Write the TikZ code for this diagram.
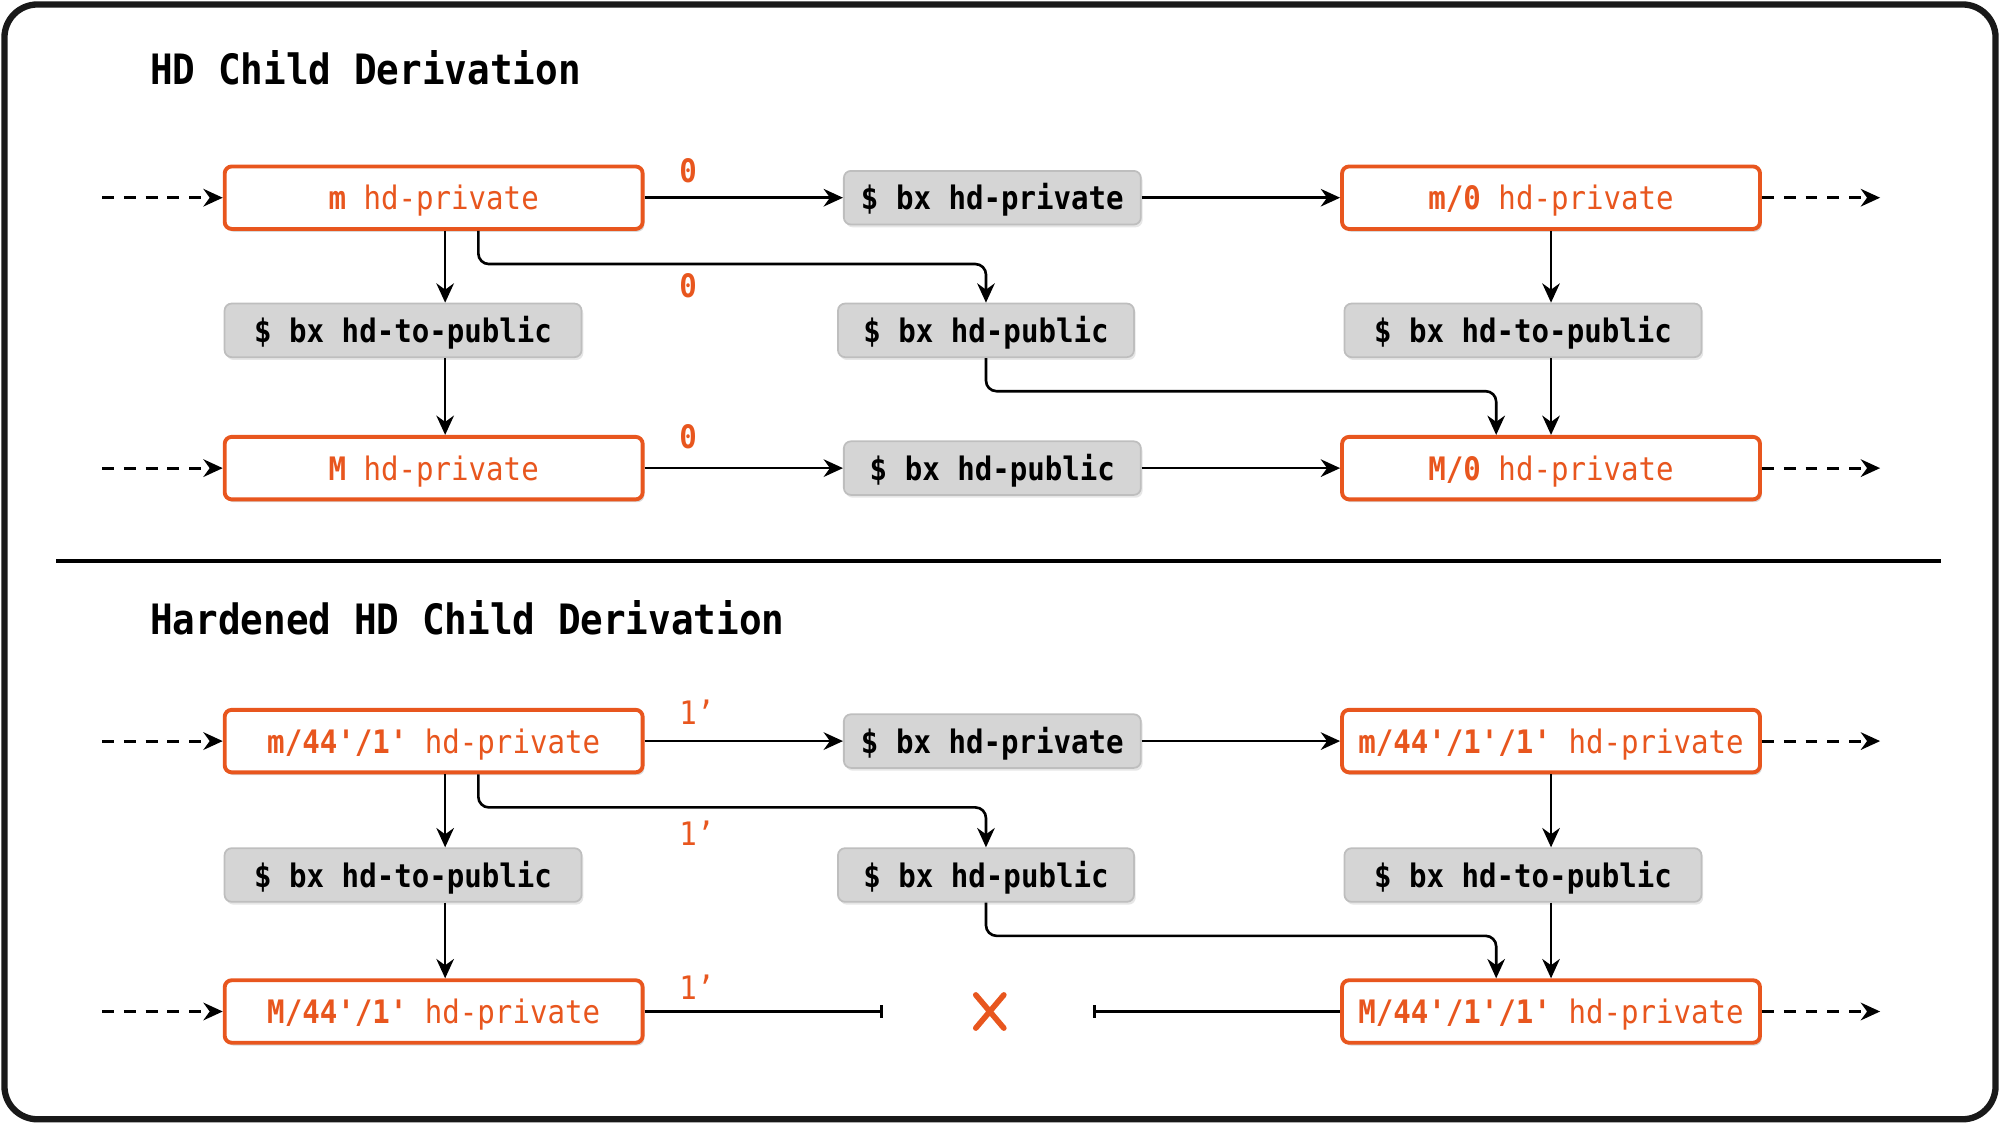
\documentclass[tikz,border=0pt]{standalone}
\usepackage{fontspec}
\setmonofont[FakeStretch=0.9]{DejaVu Sans Mono}
\usetikzlibrary{calc, arrows.meta, shadows}
\definecolor{hdorange}{HTML}{E8561E}
\definecolor{cmdgray}{HTML}{D5D5D5}
\definecolor{cmdedge}{HTML}{BEBEBE}
\newcommand{\boxfont}{\ttfamily\fontsize{9.2}{11}\selectfont}

\tikzset{
    keybox/.style={draw=hdorange, line width=1.1pt, rounded corners=2pt, fill=white,
        text=hdorange, minimum width=4.18cm, minimum height=0.625cm, inner sep=0pt,
        text height=1.8ex, text depth=0.2ex,
        font=\boxfont, drop shadow={opacity=0.3, shadow xshift=0.5pt, shadow yshift=-0.8pt}},
    cmdbox/.style={draw=cmdedge, line width=0.5pt, rounded corners=2pt, fill=cmdgray,
        minimum height=0.536cm, inner sep=0pt, font=\boxfont\bfseries,
        text height=1.8ex, text depth=0.2ex,
        drop shadow={opacity=0.2, shadow xshift=0.5pt, shadow yshift=-0.8pt}},
    link/.style={line width=0.75pt, -{Stealth[length=5.5pt, width=5pt]}},
    stub/.style={link, line width=0.9pt, dash pattern=on 3.4pt off 2.8pt},
    cut/.style={line width=0.75pt},
    idx/.style={anchor=west, inner sep=0pt, text=hdorange, font=\boxfont},
}

\begin{document}
\begin{tikzpicture}[x=0.012755cm, y=-0.012755cm]
    \useasboundingbox (0,0) rectangle (1568,881);
    \draw[line width=1.8pt, draw=black!90, rounded corners=0.33cm] (3.5,3.5) rectangle (1564.5,877.5);

    % titles and separator
    \node[anchor=west, font=\ttfamily\bfseries\fontsize{11.9}{14}\selectfont] (title) at (108,53) {HD Child Derivation};
    \node[anchor=west, font=\ttfamily\bfseries\fontsize{11.9}{14}\selectfont] (htitle) at (108,484) {Hardened HD Child Derivation};
    \draw[line width=1pt] (44,440) -- (1522,440);

    % normal derivation
    \node[keybox] (mKey) at (340,155) {{\bfseries m} hd-private};
    \node[cmdbox, minimum width=2.97cm] (bxPriv) at (778,155) {\$ bx hd-private};
    \node[keybox] (mChild) at (1216,155) {{\bfseries m/0} hd-private};
    \node[cmdbox, minimum width=3.57cm] (toPubA) at (316,259) {\$ bx hd-to-public};
    \node[cmdbox, minimum width=2.96cm] (bxPubMid) at (773,259) {\$ bx hd-public};
    \node[cmdbox, minimum width=3.57cm] (toPubB) at (1194,259) {\$ bx hd-to-public};
    \node[keybox] (MKey) at (340,367) {{\bfseries M} hd-private};
    \node[cmdbox, minimum width=2.97cm] (bxPub) at (778,367) {\$ bx hd-public};
    \node[keybox] (MChild) at (1216,367) {{\bfseries M/0} hd-private};
    \node[idx, font=\boxfont\bfseries] (ia) at (532,134) {0};
    \node[idx, font=\boxfont\bfseries] (ib) at (532,224) {0};
    \node[idx, font=\boxfont\bfseries] (ic) at (532,342) {0};

    \coordinate (inA) at (80,155);
    \coordinate (inC) at (80,367);
    \coordinate (outA) at (1474,155);
    \coordinate (outC) at (1474,367);
    \draw[stub] (inA) -- (mKey.west);
    \draw[stub] (inC) -- (MKey.west);
    \draw[stub] (mChild.east) -- (outA);
    \draw[stub] (MChild.east) -- (outC);
    \draw[link] (mKey.east) -- (bxPriv.west);
    \draw[link] (bxPriv.east) -- (mChild.west);
    \draw[link] (MKey.east) -- (bxPub.west);
    \draw[link] (bxPub.east) -- (MChild.west);
    \draw[link] ($(mKey.south)+(9,0)$) -- ($(toPubA.north)+(33,0)$);
    \draw[link] ($(toPubA.south)+(33,0)$) -- ($(MKey.north)+(9,0)$);
    \draw[link] (mChild.south) -- ($(toPubB.north)+(22,0)$);
    \draw[link] ($(toPubB.south)+(22,0)$) -- (MChild.north);
    \draw[link, rounded corners=3pt] ($(mKey.south)+(35,0)$) -- ++(0,26) -| (bxPubMid.north);
    \draw[link, rounded corners=3pt] (bxPubMid.south) -- ++(0,26) -| ($(MChild.north)+(-43,0)$);

    % hardened derivation
    \node[keybox] (hKey) at (340,581) {{\bfseries m/44'/1'} hd-private};
    \node[cmdbox, minimum width=2.97cm] (hbxPriv) at (778,581) {\$ bx hd-private};
    \node[keybox] (hChild) at (1216,581) {{\bfseries m/44'/1'/1'} hd-private};
    \node[cmdbox, minimum width=3.57cm] (htoPubA) at (316,686) {\$ bx hd-to-public};
    \node[cmdbox, minimum width=2.96cm] (hbxPubMid) at (773,686) {\$ bx hd-public};
    \node[cmdbox, minimum width=3.57cm] (htoPubB) at (1194,686) {\$ bx hd-to-public};
    \node[keybox] (HKey) at (340,793) {{\bfseries M/44'/1'} hd-private};
    \node[keybox] (HChild) at (1216,793) {{\bfseries M/44'/1'/1'} hd-private};
    \node[idx] (ha) at (532,558) {1’};
    \node[idx] (hb) at (532,653) {1’};
    \node[idx] (hc) at (532,774) {1’};

    \coordinate (hinA) at (80,581);
    \coordinate (hinC) at (80,793);
    \coordinate (houtA) at (1474,581);
    \coordinate (houtC) at (1474,793);
    \draw[stub] (hinA) -- (hKey.west);
    \draw[stub] (hinC) -- (HKey.west);
    \draw[stub] (hChild.east) -- (houtA);
    \draw[stub] (HChild.east) -- (houtC);
    \draw[link] (hKey.east) -- (hbxPriv.west);
    \draw[link] (hbxPriv.east) -- (hChild.west);
    \draw[link] ($(hKey.south)+(9,0)$) -- ($(htoPubA.north)+(33,0)$);
    \draw[link] ($(htoPubA.south)+(33,0)$) -- ($(HKey.north)+(9,0)$);
    \draw[link] (hChild.south) -- ($(htoPubB.north)+(22,0)$);
    \draw[link] ($(htoPubB.south)+(22,0)$) -- (HChild.north);
    \draw[link, rounded corners=3pt] ($(hKey.south)+(35,0)$) -- ++(0,26) -| (hbxPubMid.north);
    \draw[link, rounded corners=3pt] (hbxPubMid.south) -- ++(0,26) -| ($(HChild.north)+(-43,0)$);

    % no public path for hardened keys
    \coordinate (cutL) at (692,793);
    \coordinate (cutR) at (857,793);
    \draw[cut, -{Bar[width=3.6pt]}] (HKey.east) -- (cutL);
    \draw[cut, {Bar[width=3.6pt]}-] (cutR) -- (HChild.west);
    \draw[hdorange, line width=1.6pt, line cap=round] (765,780) -- (787,806) (787,780) -- (765,806);
\end{tikzpicture}
\end{document}
